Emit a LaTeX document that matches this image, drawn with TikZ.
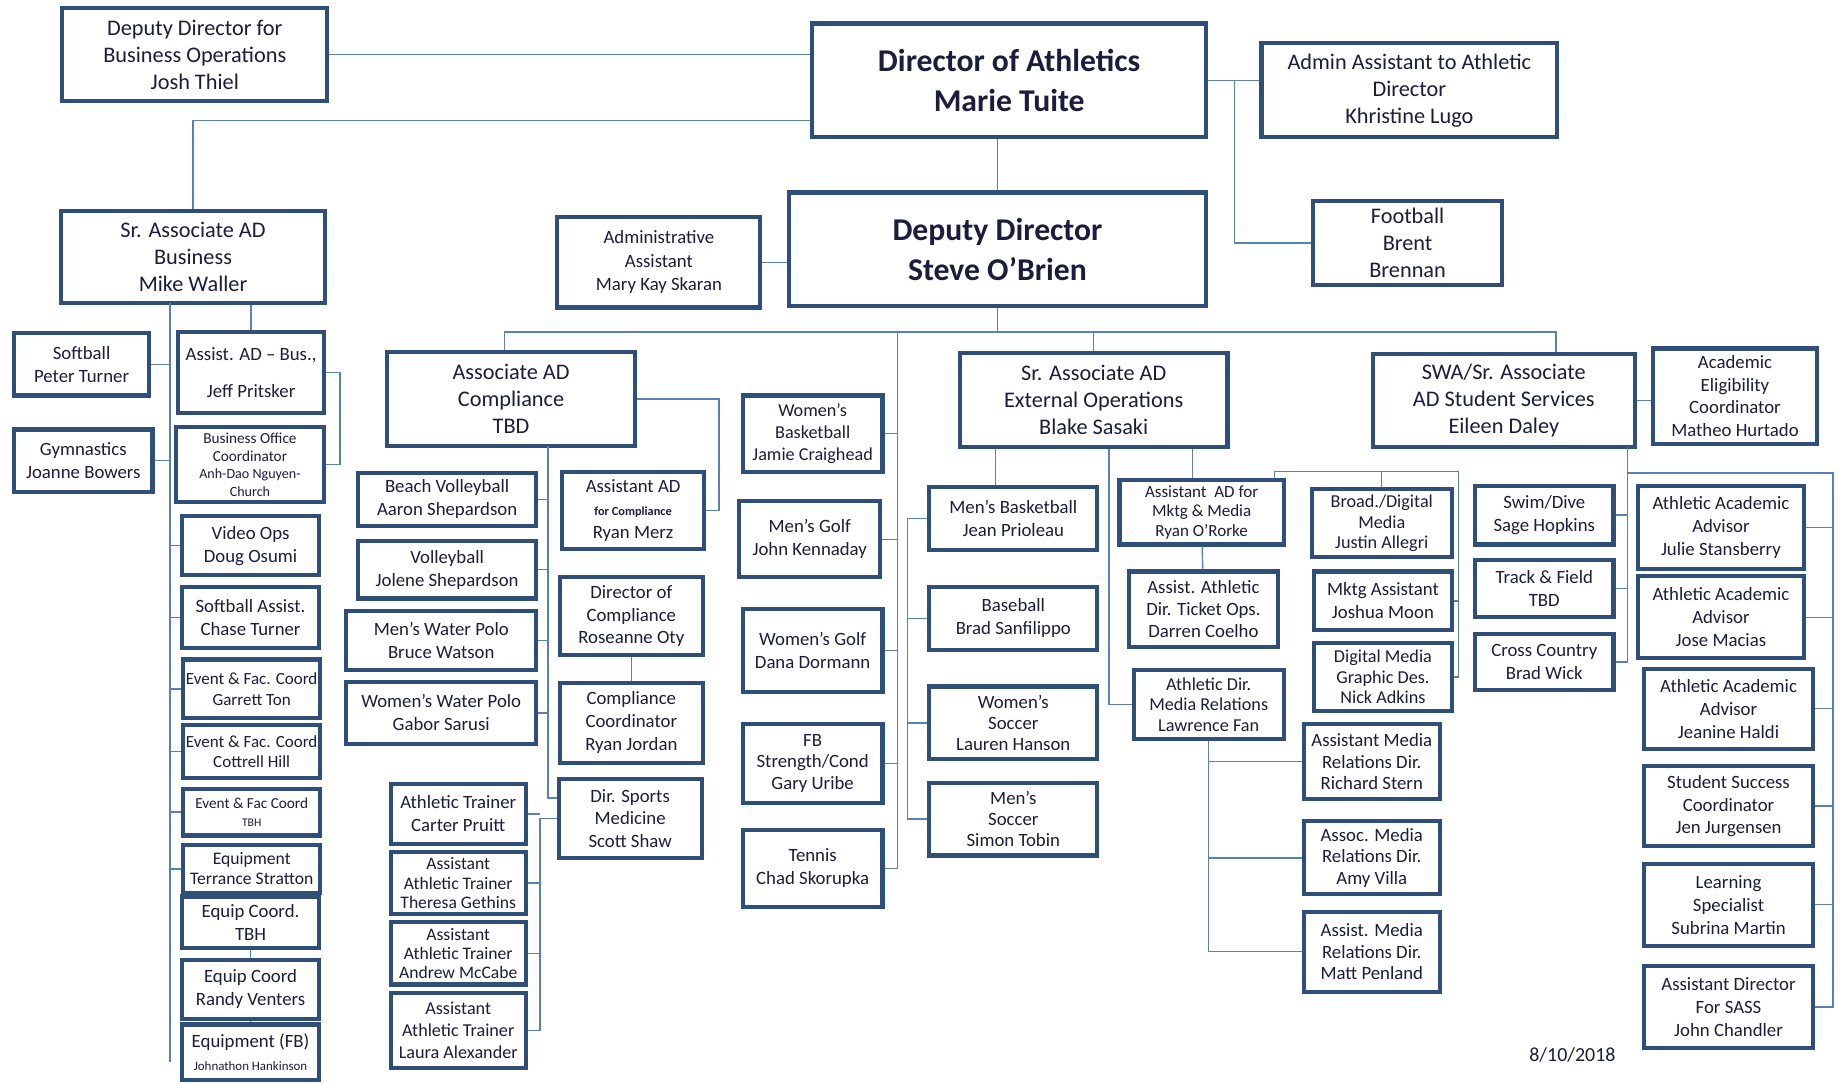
\documentclass[tikz,border=0pt]{standalone}
\usepackage{fontspec}
\setmainfont{Carlito}
\definecolor{boxblue}{HTML}{2F4E78}
\definecolor{lineblue}{HTML}{5A80B8}
\definecolor{inkblue}{HTML}{1C1C3C}

\begin{document}
\begin{tikzpicture}[x=1pt, y=-1pt,
        box/.style={rectangle, draw=boxblue, line width=3.5pt, fill=white, align=center, inner sep=2pt, text=inkblue, font=\fontsize{16}{19.5}\selectfont},
        midbox/.style={box, font=\fontsize{19}{23}\selectfont},
        topbox/.style={box, font=\bfseries\fontsize{27}{34}\selectfont},
        link/.style={draw=lineblue, line width=1.2pt},
    ]
        \useasboundingbox (0,0) rectangle (1568,923);

        %Nodes
        \node[topbox, minimum width=336, minimum height=97] (athDir) at (860,68.5) {Director of Athletics\\Marie Tuite};
        \node[midbox, minimum width=226, minimum height=79] (bizOps) at (166,46.5) {Deputy Director for\\Business Operations\\Josh Thiel};
        \node[midbox, minimum width=252, minimum height=80] (adminAsst) at (1201,77) {Admin Assistant to Athletic\\Director\\Khristine Lugo};
        \node[midbox, minimum width=225, minimum height=78] (srBiz) at (164.5,219) {Sr. Associate AD\\Business\\Mike Waller};
        \node[box, font=\fontsize{16}{20}\selectfont, minimum width=173, minimum height=77] (depAsst) at (561.5,223.5) {Administrative\\Assistant\\Mary Kay Skaran};
        \node[topbox, minimum width=356, minimum height=97] (deputy) at (850,212.5) {Deputy Director\\Steve O’Brien};
        \node[midbox, minimum width=161, minimum height=72] (football) at (1199.5,207) {Football\\Brent\\Brennan};

        % business
        \node[box, minimum width=115, minimum height=53] (softball) at (69.5,310.5) {Softball\\Peter Turner};
        \node[box, minimum width=118, minimum height=53] (gymnastics) at (71,392.5) {Gymnastics\\Joanne Bowers};
        \node[box, minimum width=124, minimum height=69] (pritsker) at (214,317.5) {Assist. AD – Bus.,\\[12pt]Jeff Pritsker};
        \node[box, font=\fontsize{13}{15}\selectfont, minimum width=126, minimum height=64] (bizOffice) at (213,396) {Business Office\\Coordinator\\{\fontsize{12}{14}\selectfont Anh-Dao Nguyen-}\\{\fontsize{12}{14}\selectfont Church}};
        \node[box, minimum width=117, minimum height=50] (videoOps) at (213.5,465) {Video Ops\\Doug Osumi};
        \node[box, minimum width=117, minimum height=52] (softAssist) at (213.5,526) {Softball Assist.\\Chase Turner};
        \node[box, font=\fontsize{14.5}{18}\selectfont, minimum width=117, minimum height=50] (eventTon) at (214.5,587) {Event \& Fac. Coord\\Garrett Ton};
        \node[box, font=\fontsize{14.5}{17}\selectfont, minimum width=117, minimum height=45] (eventHill) at (214.5,640.5) {Event \& Fac. Coord\\Cottrell Hill};
        \node[box, font=\fontsize{13}{15}\selectfont, minimum width=117, minimum height=40] (eventTBH) at (214.5,692) {Event \& Fac Coord\\{\fontsize{10}{12}\selectfont TBH}};
        \node[box, font=\fontsize{15}{17}\selectfont, minimum width=117, minimum height=41] (equipStratton) at (214.5,740.5) {Equipment\\Terrance Stratton};
        \node[box, minimum width=117, minimum height=44] (equipTBH) at (213.5,786) {Equip Coord.\\TBH};
        \node[box, minimum width=117, minimum height=50] (equipVenters) at (213.5,843) {Equip Coord\\Randy Venters};
        \node[box, minimum width=117, minimum height=47] (equipFB) at (213.5,896.5) {Equipment (FB)\\{\fontsize{11}{14}\selectfont Johnathon Hankinson}};

        % compliance
        \node[midbox, minimum width=211, minimum height=80] (compAD) at (435.5,340) {Associate AD\\Compliance\\TBD};
        \node[box, minimum width=152, minimum height=45] (beachVB) at (381,425.5) {Beach Volleyball\\Aaron Shepardson};
        \node[box, minimum width=152, minimum height=49] (volleyball) at (381,485.5) {Volleyball\\Jolene Shepardson};
        \node[box, minimum width=162, minimum height=50] (menWP) at (376,546) {Men’s Water Polo\\Bruce Watson};
        \node[box, minimum width=162, minimum height=53] (womenWP) at (376,607.5) {Women’s Water Polo\\Gabor Sarusi};
        \node[box, minimum width=121, minimum height=66] (merz) at (539.5,435) {Assistant AD\\{\bfseries\fontsize{10.5}{13}\selectfont for Compliance}\\Ryan Merz};
        \node[box, minimum width=122, minimum height=66] (oty) at (538,525) {Director of\\Compliance\\Roseanne Oty};
        \node[box, minimum width=122, minimum height=68] (jordan) at (538,616) {Compliance\\Coordinator\\Ryan Jordan};
        \node[box, minimum width=122, minimum height=67] (sportsMed) at (537,697.5) {Dir. Sports\\Medicine\\Scott Shaw};
        \node[box, minimum width=115, minimum height=51] (pruitt) at (390.5,693.5) {Athletic Trainer\\Carter Pruitt};
        \node[box, font=\fontsize{15}{16.5}\selectfont, minimum width=115, minimum height=53] (gethins) at (390.5,752.5) {Assistant\\Athletic Trainer\\Theresa Gethins};
        \node[box, font=\fontsize{15}{16.5}\selectfont, minimum width=115, minimum height=53] (mccabe) at (390.5,812.5) {Assistant\\Athletic Trainer\\Andrew McCabe};
        \node[box, font=\fontsize{15.5}{18.5}\selectfont, minimum width=115, minimum height=64] (alexander) at (390.5,878) {Assistant\\Athletic Trainer\\Laura Alexander};

        % teams under deputy
        \node[box, font=\fontsize{15.5}{18.5}\selectfont, minimum width=119, minimum height=65] (womenBB) at (692.5,369.5) {Women’s\\Basketball\\Jamie Craighead};
        \node[box, minimum width=120, minimum height=65] (menGolf) at (690,459.5) {Men’s Golf\\John Kennaday};
        \node[box, minimum width=119, minimum height=71] (womenGolf) at (692.5,554.5) {Women’s Golf\\Dana Dormann};
        \node[box, font=\fontsize{16}{18.5}\selectfont, minimum width=119, minimum height=67] (fbStrength) at (692.5,650.5) {FB\\Strength/Cond\\Gary Uribe};
        \node[box, minimum width=119, minimum height=66] (tennis) at (692.5,740) {Tennis\\Chad Skorupka};

        % external operations
        \node[midbox, minimum width=228, minimum height=80] (extOps) at (932,341) {Sr. Associate AD\\External Operations\\Blake Sasaki};
        \node[box, minimum width=143, minimum height=54] (menBB) at (863.5,442) {Men’s Basketball\\Jean Prioleau};
        \node[box, minimum width=143, minimum height=54] (baseball) at (863.5,527) {Baseball\\Brad Sanfilippo};
        \node[box, font=\fontsize{16}{18}\selectfont, minimum width=143, minimum height=62] (womenSoc) at (863.5,616) {Women’s\\Soccer\\Lauren Hanson};
        \node[box, font=\fontsize{16}{18}\selectfont, minimum width=143, minimum height=62] (menSoc) at (863.5,698) {Men’s\\Soccer\\Simon Tobin};
        \node[box, font=\fontsize{14.5}{16.5}\selectfont, minimum width=140, minimum height=55] (mktgAD) at (1024,436.5) {Assistant~ AD for\\Mktg \& Media\\Ryan O’Rorke};
        \node[box, font=\fontsize{16}{18.5}\selectfont, minimum width=127, minimum height=64] (ticketOps) at (1025.5,519) {Assist. Athletic\\Dir. Ticket Ops.\\Darren Coelho};
        \node[box, font=\fontsize{15.5}{17.5}\selectfont, minimum width=128, minimum height=59] (mediaRel) at (1030,600.5) {Athletic Dir.\\Media Relations\\Lawrence Fan};
        \node[box, font=\fontsize{15.5}{17.5}\selectfont, minimum width=119, minimum height=58] (broadcast) at (1177.5,446) {Broad./Digital\\Media\\Justin Allegri};
        \node[box, minimum width=117, minimum height=50] (mktgAsst) at (1178.5,512) {Mktg Assistant\\Joshua Moon};
        \node[box, font=\fontsize{15.5}{17.5}\selectfont, minimum width=117, minimum height=58] (graphic) at (1178.5,577) {Digital Media\\Graphic Des.\\Nick Adkins};
        \node[box, font=\fontsize{16}{18.5}\selectfont, minimum width=116, minimum height=64] (stern) at (1169,649) {Assistant Media\\Relations Dir.\\Richard Stern};
        \node[box, font=\fontsize{16}{18.5}\selectfont, minimum width=116, minimum height=62] (villa) at (1169,731) {Assoc. Media\\Relations Dir.\\Amy Villa};
        \node[box, font=\fontsize{16}{18.5}\selectfont, minimum width=116, minimum height=68] (penland) at (1169,811) {Assist. Media\\Relations Dir.\\Matt Penland};

        % student services
        \node[midbox, minimum width=223, minimum height=79] (swa) at (1281.5,341.5) {SWA/Sr. Associate\\AD Student Services\\Eileen Daley};
        \node[box, minimum width=139, minimum height=81] (eligibility) at (1478.5,337.5) {Academic\\Eligibility\\Coordinator\\Matheo Hurtado};
        \node[box, minimum width=118, minimum height=50] (swim) at (1316,439) {Swim/Dive\\Sage Hopkins};
        \node[box, minimum width=118, minimum height=49] (track) at (1316,501.5) {Track \& Field\\TBD};
        \node[box, minimum width=118, minimum height=48] (cross) at (1316,564) {Cross Country\\Brad Wick};
        \node[box, minimum width=141, minimum height=71] (stansberry) at (1466.5,449.5) {Athletic Academic\\Advisor\\Julie Stansberry};
        \node[box, minimum width=141, minimum height=70] (macias) at (1466.5,526) {Athletic Academic\\Advisor\\Jose Macias};
        \node[box, minimum width=144, minimum height=68] (haldi) at (1473,604) {Athletic Academic\\Advisor\\Jeanine Haldi};
        \node[box, minimum width=144, minimum height=68] (jurgensen) at (1473,687) {Student Success\\Coordinator\\Jen Jurgensen};
        \node[box, minimum width=144, minimum height=70] (martin) at (1473,771) {Learning\\Specialist\\Subrina Martin};
        \node[box, minimum width=144, minimum height=70] (chandler) at (1473,858) {Assistant Director\\For SASS\\John Chandler};

        \node[text=inkblue, font=\fontsize{17}{20}\selectfont] (date) at (1340,899) {8/10/2018};

        %Lines
        \draw[link] (bizOps.east) -- (bizOps.east -| athDir.west);
        \draw[link] (srBiz.north) |- ([yshift=16pt]athDir.south west);
        \draw[link] (deputy.north) -- (deputy.north |- athDir.south);
        \draw[link] (depAsst.east) -- (depAsst.east -| deputy.west);
        \draw[link] (athDir.east) -- (athDir.east -| adminAsst.west);
        \coordinate (adJoin) at ([xshift=22pt]athDir.east);
        \draw[link] (adJoin) |- (football.west);

        \coordinate (busL) at (430,283);
        \coordinate (busR) at (1326,283);
        \coordinate (teamBus) at (765,283);
        \draw[link] (deputy.south) -- (deputy.south |- busL);
        \draw[link] (busL |- compAD.north) -- (busL) -- (busR) -- (busR |- swa.north);
        \draw[link] (extOps.north) -- (extOps.north |- busL);

        \coordinate (bizTop) at (145,258);
        \coordinate (bizBot) at (145,905);
        \draw[link] (bizTop) -- (bizBot);
        \draw[link] (softball.east) -- (softball.east -| bizTop);
        \draw[link] (gymnastics.east) -- (gymnastics.east -| bizTop);
        \draw[link] (videoOps.west) -- (videoOps.west -| bizTop);
        \draw[link] (softAssist.west) -- (softAssist.west -| bizTop);
        \draw[link] (eventTon.west) -- (eventTon.west -| bizTop);
        \draw[link] (eventHill.west) -- (eventHill.west -| bizTop);
        \draw[link] (eventTBH.west) -- (eventTBH.west -| bizTop);
        \draw[link] (equipStratton.west) -- (equipStratton.west -| bizTop);
        \draw[link] (pritsker.north) -- (pritsker.north |- srBiz.south);
        \draw[link] (pritsker.east) -- ++(12,0) |- (bizOffice.east);
        \draw[link] (equipTBH.south) -- (equipVenters.north);
        \draw[link] (equipVenters.south) -- (equipFB.north);

        \coordinate (compTop) at (467,380);
        \coordinate (compBot) at (467,680);
        \draw[link] (compTop) -- (compBot) -- (compBot -| sportsMed.west);
        \draw[link] (beachVB.east) -- (beachVB.east -| compTop);
        \draw[link] (volleyball.east) -- (volleyball.east -| compTop);
        \draw[link] (menWP.east) -- (menWP.east -| compTop);
        \draw[link] (womenWP.east) -- (womenWP.east -| compTop);
        \draw[link] (compAD.east) -- ++(70,0) |- (merz.east);
        \draw[link] (oty) -- (jordan);
        \draw[link] (sportsMed.west) -- ++(-14,0) coordinate (trainBus) -- (trainBus |- alexander.east) -- (alexander.east);
        \draw[link] (pruitt.east) -- (pruitt.east -| trainBus);
        \draw[link] (gethins.east) -- (gethins.east -| trainBus);
        \draw[link] (mccabe.east) -- (mccabe.east -| trainBus);

        \draw[link] (teamBus) -- (teamBus |- tennis.east) -- (tennis.east);
        \draw[link] (womenBB.east) -- (womenBB.east -| teamBus);
        \draw[link] (menGolf.east) -- (menGolf.east -| teamBus);
        \draw[link] (womenGolf.east) -- (womenGolf.east -| teamBus);
        \draw[link] (fbStrength.east) -- (fbStrength.east -| teamBus);

        \draw[link] ([xshift=-15pt]menBB.north) -- ([xshift=-15pt]menBB.north |- extOps.south);
        \draw[link] (menBB.west) -- ++(-17,0) coordinate (sportBus) -- (sportBus |- menSoc.west) -- (menSoc.west);
        \draw[link] (baseball.west) -- (baseball.west -| sportBus);
        \draw[link] (womenSoc.west) -- (womenSoc.west -| sportBus);
        \draw[link] ([xshift=13pt]extOps.south) |- (mediaRel.west);
        \draw[link] ([xshift=-8pt]mktgAD.north) -- ([xshift=-8pt]mktgAD.north |- extOps.south);
        \draw[link] (mktgAD) -- (ticketOps);
        \coordinate (mktgTop) at (1086,402);
        \coordinate (mktgRight) at (1243,402);
        \draw[link] (mktgTop |- mktgAD.north) -- (mktgTop) -- (mktgRight) -- (mktgRight |- graphic.east) -- (graphic.east);
        \draw[link] (broadcast.north) -- (broadcast.north |- mktgTop);
        \draw[link] (mktgAsst.east) -- (mktgAsst.east -| mktgRight);
        \draw[link] (mediaRel.south) -- (mediaRel.south |- penland.west) -- (penland.west);
        \draw[link] (stern.west) -- (stern.west -| mediaRel.south);
        \draw[link] (villa.west) -- (villa.west -| mediaRel.south);

        \draw[link] (swa.east) -- (swa.east -| eligibility.west);
        \coordinate (swaTop) at (1387,381);
        \draw[link] (swaTop) -- (swaTop |- cross.east) -- (cross.east);
        \draw[link] (swim.east) -- (swim.east -| swaTop);
        \draw[link] (track.east) -- (track.east -| swaTop);
        \coordinate (advTop) at (1387,403);
        \coordinate (advRight) at (1562,403);
        \draw[link] (advTop) -- (advRight) -- (advRight |- chandler.east) -- (chandler.east);
        \draw[link] (stansberry.east) -- (stansberry.east -| advRight);
        \draw[link] (macias.east) -- (macias.east -| advRight);
        \draw[link] (haldi.east) -- (haldi.east -| advRight);
        \draw[link] (jurgensen.east) -- (jurgensen.east -| advRight);
        \draw[link] (martin.east) -- (martin.east -| advRight);
    \end{tikzpicture}
\end{document}
